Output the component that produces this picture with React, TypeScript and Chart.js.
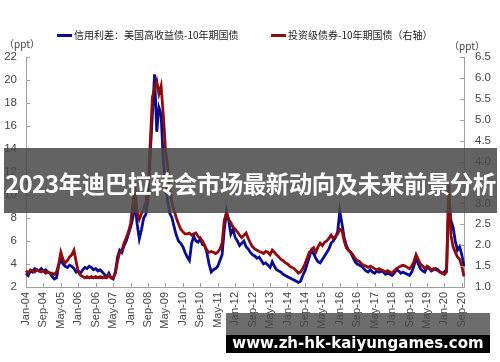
import React, { useEffect, useRef } from "react";
import { Chart, registerables } from "chart.js";

Chart.register(...registerables);

const MONTHS = ["Jan", "Feb", "Mar", "Apr", "May", "Jun", "Jul", "Aug", "Sep", "Oct", "Nov", "Dec"];
const YEARS = ["04", "05", "06", "07", "08", "09", "10", "11", "12", "13", "14", "15", "16", "17", "18", "19", "20"];
const categories: string[] = [];
YEARS.forEach((y) => MONTHS.forEach((m) => categories.push(m + "-" + y)));
categories.length = 202; // Jan-04 .. Oct-20

const seriesHYName = "信用利差：美国高收益债-10年期国债";
const seriesIGName = "投资级债券-10年期国债（右轴）";

// left axis (ppt)
const hySpread = [
  3.2, 3.0, 3.4, 3.3, 3.6, 3.5, 3.4, 3.6, 3.4, 3.5, 3.3, 3.2,
  2.9, 2.7, 2.8, 3.9, 4.4, 4.0, 3.8, 3.7, 3.9, 3.8, 3.6, 3.3,
  3.4, 3.2, 3.5, 3.7, 3.6, 3.8, 3.7, 3.5, 3.6, 3.4, 3.5, 3.3,
  3.1, 2.9, 3.2, 2.8, 2.7, 3.3, 4.6, 5.2, 5.0, 5.6, 6.0, 6.6,
  7.2, 8.0, 9.3, 7.5, 6.2, 7.0, 8.0, 8.3, 9.6, 13.5, 17.0, 20.5,
  15.5, 17.6, 17.0, 13.0, 11.0, 9.5, 8.4, 8.0, 7.2, 6.5, 6.0, 5.8,
  5.5, 5.0, 4.6, 4.3, 5.8, 6.4, 6.0, 5.9, 6.2, 5.7, 5.6, 5.0,
  4.0, 3.3, 3.5, 3.6, 3.8, 4.3, 4.8, 7.0, 8.6, 7.8, 6.6, 7.0,
  6.3, 6.0, 5.6, 5.8, 6.0, 5.5, 5.3, 5.0, 4.8, 4.7, 4.5, 4.6,
  4.3, 4.0, 4.1, 3.9, 3.7, 4.2, 3.8, 3.5, 3.4, 3.3, 3.1, 3.0,
  2.9, 2.8, 2.7, 2.6, 2.5, 2.4, 2.5, 3.0, 3.4, 4.0, 4.6, 5.2,
  4.9, 4.5, 4.2, 4.1, 4.4, 4.7, 5.0, 5.3, 5.8, 6.0, 6.3, 6.8,
  8.6, 7.5, 6.3, 5.6, 5.2, 5.0, 4.6, 4.2, 4.0, 3.9, 3.8, 3.6,
  3.4, 3.3, 3.5, 3.3, 3.2, 3.4, 3.3, 3.4, 3.3, 3.1, 3.2, 3.1,
  3.0, 3.2, 3.5, 3.4, 3.2, 3.3, 3.2, 3.1, 3.0, 3.3, 3.8, 4.6,
  4.0, 3.6, 3.4, 3.3, 3.7, 3.6, 3.4, 3.5, 3.6, 3.5, 3.3, 3.2,
  3.3, 3.5, 9.8, 7.8, 7.2, 6.0, 5.2, 5.5, 4.8, 3.8,
];

// right axis (ppt)
const igSpread = [
  1.39, 1.33, 1.41, 1.39, 1.36, 1.41, 1.39, 1.36, 1.39, 1.33, 1.36, 1.33,
  1.33, 1.30, 1.36, 1.55, 1.83, 1.66, 1.58, 1.63, 1.72, 1.77, 1.88, 1.61,
  1.36, 1.28, 1.25, 1.22, 1.25, 1.22, 1.25, 1.22, 1.25, 1.22, 1.25, 1.22,
  1.25, 1.22, 1.28, 1.22, 1.22, 1.33, 1.61, 1.83, 1.88, 2.05, 2.18, 2.32,
  2.51, 2.98, 3.34, 2.79, 2.62, 2.76, 2.87, 3.01, 3.37, 4.44, 5.54, 5.73,
  5.92, 5.62, 5.81, 5.13, 4.30, 3.89, 3.34, 3.01, 2.82, 2.65, 2.51, 2.38,
  2.32, 2.27, 2.27, 2.29, 2.24, 2.27, 2.29, 2.21, 2.16, 2.10, 1.99, 1.88,
  1.83, 1.85, 1.83, 1.80, 1.83, 1.91, 2.05, 2.60, 2.76, 2.62, 2.54, 2.43,
  2.38, 2.32, 2.24, 2.18, 2.24, 2.29, 2.16, 2.05, 1.96, 1.91, 1.88, 1.85,
  1.83, 1.80, 1.85, 1.83, 1.77, 1.88, 1.83, 1.77, 1.72, 1.66, 1.63, 1.58,
  1.55, 1.50, 1.47, 1.44, 1.39, 1.33, 1.36, 1.44, 1.55, 1.69, 1.83, 1.88,
  1.94, 1.83, 1.96, 2.05, 1.99, 2.07, 2.10, 2.16, 2.24, 2.16, 2.21, 2.27,
  2.38, 2.35, 2.10, 1.94, 1.88, 1.83, 1.77, 1.69, 1.63, 1.61, 1.55, 1.52,
  1.50, 1.47, 1.50, 1.47, 1.44, 1.41, 1.44, 1.41, 1.39, 1.36, 1.39, 1.36,
  1.33, 1.39, 1.44, 1.47, 1.50, 1.52, 1.50, 1.47, 1.44, 1.50, 1.61, 1.77,
  1.66, 1.55, 1.50, 1.44, 1.50, 1.47, 1.41, 1.44, 1.41, 1.39, 1.36, 1.33,
  1.30, 1.36, 3.45, 2.24, 1.96, 1.83, 1.72, 1.66, 1.50, 1.25,
];

const leftTicks = { min: 2, max: 22, step: 2 };
const rightTicks = { min: 1, max: 6.5, step: 0.5 };
const xLabelEvery = 8;
const unitLabel = "（ppt）";
const bannerTitle = "2023年迪巴拉转会市场最新动向及未来前景分析";
const bannerUrl = "www.zh-hk-kaiyungames.com";

const BLUE = "#0b0b8e";
const RED = "#8a0c0c";
const AXIS = "#a0a0a0";
const TEXT = "#444";
const CJK = '"Noto Sans CJK SC", "Liberation Sans", sans-serif';
const LAT = '"Liberation Sans", Arial, sans-serif';

const decorPlugin = {
  id: "decor",
  afterDraw(chart: any) {
    const ctx = chart.ctx;
    const { left, right, bottom } = chart.chartArea;
    const xs = chart.scales.x;
    const ys = chart.scales.y;
    const y1 = chart.scales.y1;
    ctx.save();
    ctx.strokeStyle = AXIS;
    ctx.lineWidth = 1;
    ctx.beginPath();
    ys.ticks.forEach((t: any) => {
      const p = Math.round(ys.getPixelForValue(t.value)) + 0.5;
      ctx.moveTo(left, p);
      ctx.lineTo(left + 4, p);
    });
    y1.ticks.forEach((t: any) => {
      const p = Math.round(y1.getPixelForValue(t.value)) + 0.5;
      ctx.moveTo(right, p);
      ctx.lineTo(right - 4, p);
    });
    for (let i = 0; i < categories.length; i += xLabelEvery) {
      const p = Math.round(xs.getPixelForValue(i)) + 0.5;
      ctx.moveTo(p, bottom);
      ctx.lineTo(p, bottom - 4);
    }
    ctx.stroke();

    // unit labels
    ctx.fillStyle = TEXT;
    ctx.font = "10px " + CJK;
    ctx.textBaseline = "middle";
    ctx.textAlign = "left";
    ctx.fillText(unitLabel, 4, 44);
    ctx.fillText(unitLabel, 449, 46);

    // legend
    const items = [
      { x: 57, name: seriesHYName, color: BLUE },
      { x: 271, name: seriesIGName, color: RED },
    ];
    ctx.font = "10px " + CJK;
    items.forEach((it) => {
      ctx.fillStyle = it.color;
      ctx.fillRect(it.x, 34, 15, 3);
      ctx.fillStyle = "#222";
      ctx.fillText(it.name, it.x + 17, 35.5);
    });
    ctx.restore();
  },
};

export default function App() {
  const ref = useRef<HTMLCanvasElement | null>(null);

  useEffect(() => {
    if (!ref.current) return;
    const chart = new Chart(ref.current, {
      type: "line",
      data: {
        labels: categories,
        datasets: [
          {
            label: seriesHYName,
            data: hySpread,
            yAxisID: "y",
            borderColor: BLUE,
            backgroundColor: BLUE,
            borderWidth: 2.8,
            pointRadius: 0,
            tension: 0,
            order: 1,
          },
          {
            label: seriesIGName,
            data: igSpread,
            yAxisID: "y1",
            borderColor: RED,
            backgroundColor: RED,
            borderWidth: 2.8,
            pointRadius: 0,
            tension: 0,
            order: 0,
          },
        ],
      },
      options: {
        responsive: false,
        animation: false,
        layout: { padding: { top: 57, left: 0, right: 0, bottom: 0 } },
        plugins: { legend: { display: false }, tooltip: { enabled: false } },
        scales: {
          x: {
            type: "category",
            grid: { display: false, drawTicks: false },
            border: { display: true, color: AXIS },
            ticks: {
              autoSkip: false,
              maxRotation: 90,
              minRotation: 90,
              padding: 5,
              color: TEXT,
              font: { family: LAT, size: 11 },
              callback: (_v: any, i: number) => (i % xLabelEvery === 0 ? categories[i] : ""),
            },
            afterFit: (s: any) => {
              s.height = 75;
            },
          },
          y: {
            position: "left",
            min: leftTicks.min,
            max: leftTicks.max,
            grid: { display: false, drawTicks: false },
            border: { display: true, color: AXIS },
            ticks: {
              stepSize: leftTicks.step,
              padding: 9,
              color: TEXT,
              font: { family: LAT, size: 11.5 },
            },
            afterFit: (s: any) => {
              s.width = 26;
            },
          },
          y1: {
            position: "right",
            min: rightTicks.min,
            max: rightTicks.max,
            grid: { display: false, drawTicks: false },
            border: { display: true, color: AXIS },
            ticks: {
              stepSize: rightTicks.step,
              padding: 11,
              color: TEXT,
              font: { family: LAT, size: 11.5 },
              callback: (v: any) => Number(v).toFixed(1),
            },
            afterFit: (s: any) => {
              s.width = 36;
            },
          },
        },
      },
      plugins: [decorPlugin],
    } as any);
    return () => chart.destroy();
  }, []);

  return (
    <div style={{ position: "fixed", left: 0, top: 0, width: 500, height: 362, background: "#fff", overflow: "hidden" }}>
      <canvas ref={ref} width={500} height={362} style={{ position: "absolute", left: 0, top: 0, width: 500, height: 362 }} />
      <div
        style={{
          position: "absolute",
          left: 4,
          top: 148,
          width: 493,
          height: 65,
          background: "rgba(72,72,72,0.85)",
          color: "#fff",
          fontFamily: CJK,
          fontWeight: 700,
          fontSize: 23.5,
          lineHeight: "65px",
          textAlign: "center",
          whiteSpace: "nowrap",
          letterSpacing: -0.5,
        }}
      >
        <span style={{ position: "relative", top: 3 }}>{bannerTitle}</span>
      </div>
      <div
        style={{
          position: "absolute",
          left: 226,
          top: 313,
          width: 264,
          height: 22,
          background: "rgba(72,72,72,0.8)",
        }}
      />
      <div
        style={{
          position: "absolute",
          left: 226,
          top: 335,
          width: 264,
          height: 18,
          background: "#000",
          color: "#fff",
          fontFamily: '"DejaVu Sans", sans-serif',
          fontWeight: 700,
          fontSize: 15,
          lineHeight: "16px",
          textAlign: "center",
          whiteSpace: "nowrap",
        }}
      >
        {bannerUrl}
      </div>
    </div>
  );
}
